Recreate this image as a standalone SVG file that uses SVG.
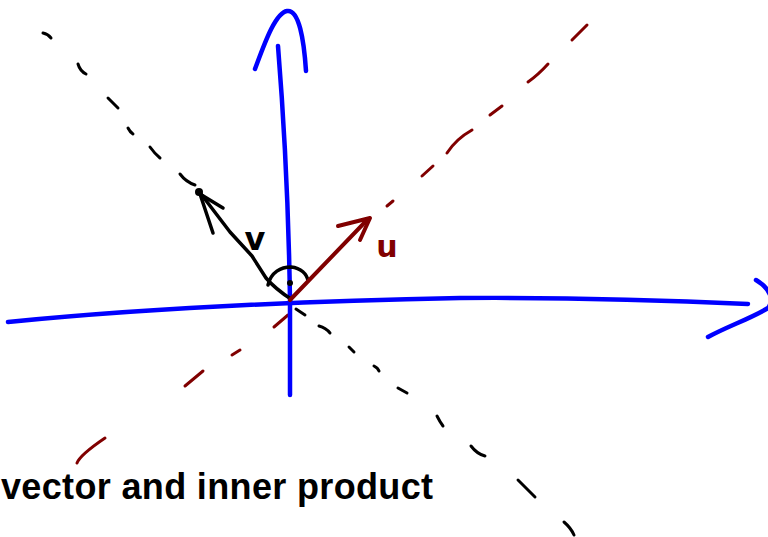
<svg xmlns="http://www.w3.org/2000/svg" width="768" height="537" viewBox="0 0 768 537">
<style>
.ax{fill:none;stroke:#0000ff;stroke-width:4.5;stroke-linecap:round;stroke-linejoin:round}
.bd{fill:none;stroke:#000;stroke-width:3;stroke-linecap:round}
.rd{fill:none;stroke:#800000;stroke-width:3;stroke-linecap:round}
.vv{fill:none;stroke:#000;stroke-width:3.5;stroke-linecap:round;stroke-linejoin:round}
.uv{fill:none;stroke:#800000;stroke-width:4;stroke-linecap:round;stroke-linejoin:round}
.lbl{font-family:"DejaVu Sans",sans-serif;font-weight:bold}
</style>
<rect width="768" height="537" fill="#fff"/>
<g id="dashed-black">
<path class="bd" d="M43,33 Q48,34 51,38"/>
<path class="bd" d="M78,64 Q80,71 86,74"/>
<path class="bd" d="M108,98 L118,108"/>
<path class="bd" d="M128,128 Q130,132 133,134"/>
<path class="bd" d="M150,147 Q155,154 160,158"/>
<path class="bd" d="M180,174 Q186,182 195,185"/>
<path class="bd" d="M296,309 L305,315"/>
<path class="bd" d="M319,326 Q326,328 330,333"/>
<path class="bd" d="M349,347 L354,352"/>
<path class="bd" d="M374,366 Q378,368 379,371"/>
<path class="bd" d="M398,388 L407,393"/>
<path class="bd" d="M437,416 Q440,422 443,426"/>
<path class="bd" d="M471,446 Q477,454 485,456"/>
<path class="bd" d="M518,480 L535,497"/>
<path class="bd" d="M564,522 Q571,528 574,535"/>
</g>
<g id="dashed-red">
<path class="rd" d="M572,40 L587,25"/>
<path class="rd" d="M528,82 Q538,75 548,64"/>
<path class="rd" d="M490,115 L502,106"/>
<path class="rd" d="M447,153 Q456,139 472,130"/>
<path class="rd" d="M422,176 L433,166"/>
<path class="rd" d="M387,206 L393,201"/>
<path class="rd" d="M274,327 L288,315"/>
<path class="rd" d="M232,355 L240,350"/>
<path class="rd" d="M185,386 L203,371"/>
<path class="rd" d="M77,463 Q80,455 105,438"/>
</g>
<g id="axes">
<path class="ax" d="M8,322 Q200,303 460,298 Q600,297 748,304"/>
<path class="ax" d="M756,280 C771,289 774,300 768,308 C752,318 726,327 708,337"/>
<path class="ax" d="M278,46 Q288,170 290,300 L290,395"/>
<path class="ax" d="M255,69 C264,45 275,13 287,11 C299,9 304,40 306,71"/>
</g>
<g id="vector-v">
<path class="vv" d="M291,299 C280,292 272,285 266,278 L252,256 L230,232 L201,194"/>
<path class="vv" d="M223,208 L200,194 L213,233"/>
<circle cx="199" cy="192" r="4" fill="#000"/>
</g>
<g id="right-angle">
<path class="vv" d="M268,285 C271,272 281,267 291,267 C301,268 307,274 308,281"/>
<circle cx="290" cy="283" r="3" fill="#000"/>
</g>
<g id="vector-u">
<path class="uv" d="M290,300 L368,219"/>
<path class="uv" d="M338,226 L370,218 L360,240"/>
</g>
<g id="labels">
<text class="lbl" x="255" y="250" font-size="32" text-anchor="middle" fill="#000">v</text>
<text class="lbl" x="387" y="257" font-size="30" text-anchor="middle" fill="#800000">u</text>
<text x="1" y="499" font-family="'Liberation Sans',Arial,sans-serif" font-weight="bold" font-size="36" textLength="432" lengthAdjust="spacing" fill="#000">vector and inner product</text>
</g>
</svg>
